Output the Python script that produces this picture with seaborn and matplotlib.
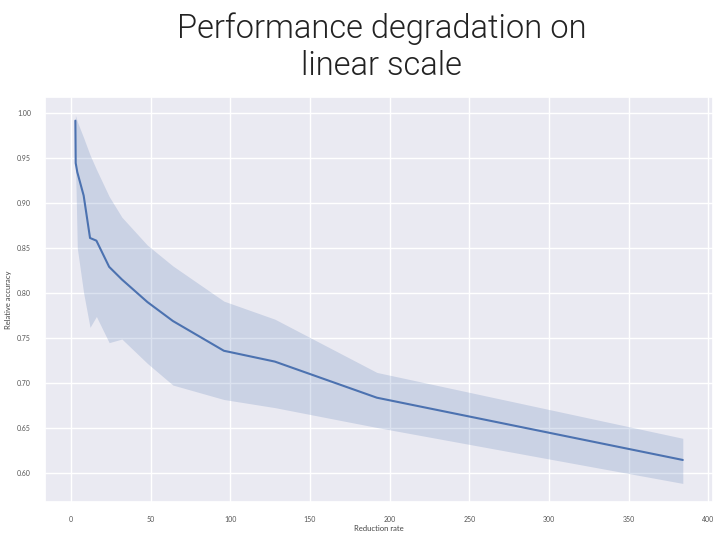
import numpy as np
import pandas as pd
import seaborn as sns
import matplotlib.pyplot as plt

# reduction rate vs relative accuracy, with band bounds
rate = [2.8, 3, 4, 8, 12, 16, 24, 32, 48, 64, 96, 128, 192, 384]
accuracy = [0.991, 0.944, 0.934, 0.908, 0.861, 0.858, 0.829, 0.815, 0.790, 0.769, 0.736, 0.724, 0.684, 0.615]
lower = [0.985, 0.935, 0.850, 0.800, 0.762, 0.774, 0.745, 0.749, 0.722, 0.698, 0.682, 0.673, 0.651, 0.589]
upper = [0.997, 0.996, 0.990, 0.972, 0.953, 0.937, 0.907, 0.884, 0.853, 0.830, 0.791, 0.771, 0.712, 0.639]

df = pd.DataFrame({'rate': rate, 'accuracy': accuracy})

sns.set_theme(style='darkgrid')
plt.rcParams['font.family'] = ['Lato', 'DejaVu Sans']

fig = plt.figure(figsize=(7.2, 5.35), dpi=100)
ax = fig.add_axes([0.0625, 0.062, 0.928, 0.757])

color = sns.color_palette()[0]
sns.lineplot(data=df, x='rate', y='accuracy', color=color, linewidth=1.5, ax=ax)
ax.fill_between(rate, lower, upper, color=color, alpha=0.2, linewidth=0)

ax.set_xticks(np.arange(0, 401, 50))
ax.set_yticks(np.arange(0.60, 1.001, 0.05))
ax.set_yticklabels([f'{v:.2f}' for v in np.arange(0.60, 1.001, 0.05)])
ax.tick_params(labelsize=5, colors='#555555', pad=4)
ax.set_xlabel('Reduction rate', fontsize=5.5, color='#444444', labelpad=2)
ax.set_ylabel('Relative accuracy', fontsize=5.5, color='#444444', labelpad=4)

fig.text(0.530, 0.912, 'Performance degradation on\nlinear scale', ha='center', va='center',
         family=['Roboto', 'DejaVu Sans'], fontweight=300,
         fontsize=23.5, color='#222222', linespacing=1.22)

fig.savefig('out.png', dpi=100)
